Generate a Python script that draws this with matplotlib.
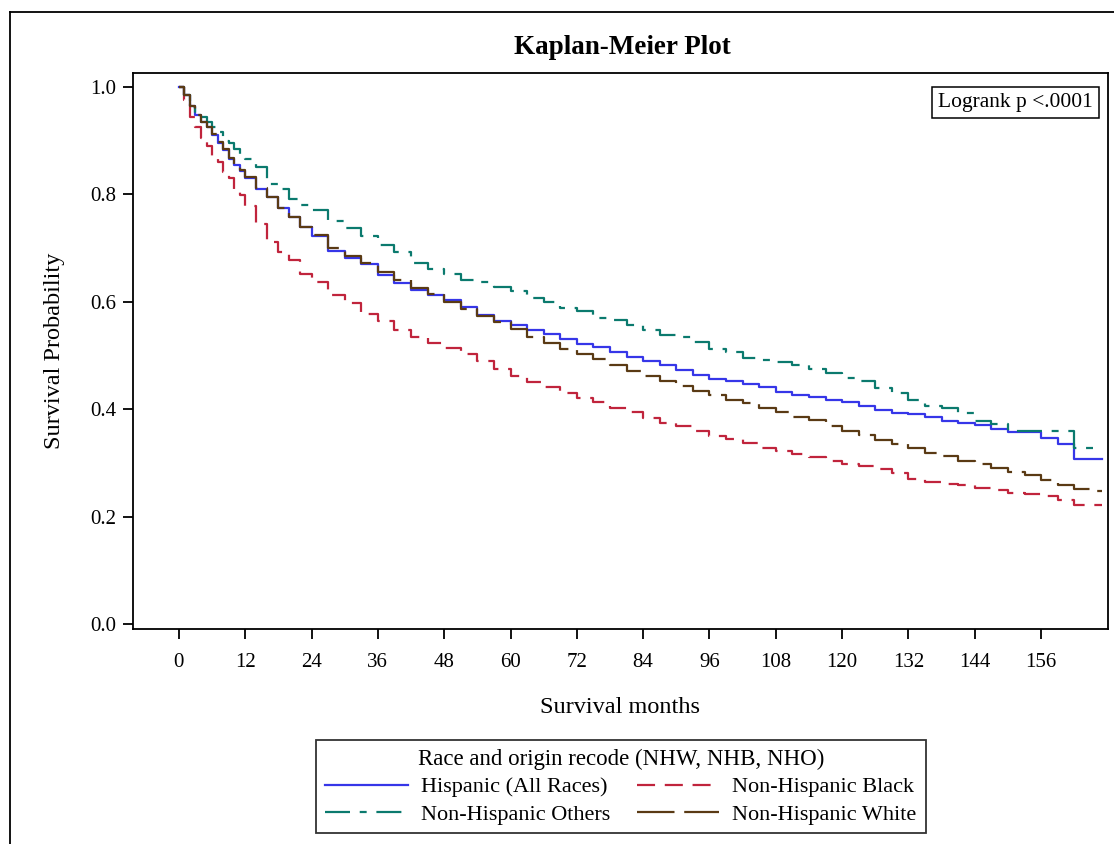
import matplotlib
matplotlib.use("Agg")
import matplotlib.pyplot as plt
from matplotlib.lines import Line2D

plt.rcParams["font.family"] = ["Liberation Serif", "DejaVu Serif"]
plt.rcParams["lines.scale_dashes"] = False

# --- data (survival probability by month) ---------------------------------
months = [0, 1, 2, 3, 4, 5, 6, 7, 8, 9, 10, 11, 12,
          14, 16, 18, 20, 22, 24,
          27, 30, 33, 36, 39, 42, 45, 48, 51, 54, 57, 60, 63, 66, 69, 72,
          75, 78, 81, 84, 87, 90, 93, 96, 99, 102, 105, 108, 111, 114, 117,
          120, 123, 126, 129, 132, 135, 138, 141, 144, 147, 150, 153, 156,
          159, 162, 165, 167]

hispanic = [1.0, 0.985, 0.965, 0.948, 0.935, 0.925, 0.91, 0.895, 0.882, 0.866,
            0.855, 0.843, 0.83,
            0.81, 0.795, 0.775, 0.757, 0.74, 0.722,
            0.695, 0.682, 0.67, 0.65, 0.635, 0.622, 0.612, 0.603, 0.59, 0.575,
            0.565, 0.556, 0.548, 0.54, 0.53, 0.522,
            0.515, 0.507, 0.497, 0.49, 0.482, 0.473, 0.464, 0.457, 0.452,
            0.447, 0.442, 0.432, 0.427, 0.423, 0.418,
            0.413, 0.406, 0.398, 0.393, 0.391, 0.386, 0.378, 0.375, 0.37,
            0.364, 0.358, 0.358, 0.347,
            0.335, 0.307, 0.307, 0.307]

nh_black = [1.0, 0.975, 0.945, 0.925, 0.905, 0.89, 0.87, 0.86, 0.842, 0.83,
            0.81, 0.798, 0.778,
            0.745, 0.712, 0.692, 0.678, 0.652, 0.637,
            0.612, 0.598, 0.578, 0.565, 0.548, 0.535, 0.523, 0.514, 0.503,
            0.49, 0.475, 0.462, 0.451, 0.441, 0.43, 0.42,
            0.413, 0.403, 0.394, 0.384, 0.375, 0.368, 0.36, 0.35, 0.344,
            0.337, 0.328, 0.322, 0.317, 0.311, 0.303,
            0.298, 0.294, 0.288, 0.281, 0.27, 0.264, 0.261, 0.258, 0.253,
            0.249, 0.244, 0.242, 0.238,
            0.231, 0.222, 0.222, 0.222]

nh_others = [1.0, 0.985, 0.963, 0.95, 0.944, 0.935, 0.925, 0.916, 0.9, 0.895,
             0.885, 0.875, 0.865,
             0.851, 0.82, 0.81, 0.792, 0.78, 0.77,
             0.75, 0.737, 0.722, 0.705, 0.692, 0.672, 0.661, 0.652, 0.641,
             0.636, 0.627, 0.62, 0.607, 0.6, 0.589, 0.582,
             0.569, 0.566, 0.557, 0.548, 0.538, 0.534, 0.525, 0.512, 0.506,
             0.496, 0.492, 0.487, 0.482, 0.475, 0.467,
             0.458, 0.452, 0.44, 0.43, 0.418, 0.406, 0.402, 0.392, 0.378,
             0.372, 0.36, 0.36, 0.36,
             0.36, 0.328, 0.328, 0.328]

nh_white = [1.0, 0.985, 0.965, 0.948, 0.935, 0.925, 0.912, 0.897, 0.884, 0.868,
            0.857, 0.845, 0.832,
            0.812, 0.795, 0.775, 0.757, 0.74, 0.725,
            0.7, 0.685, 0.672, 0.655, 0.64, 0.626, 0.614, 0.6, 0.587, 0.573,
            0.562, 0.549, 0.535, 0.524, 0.513, 0.503,
            0.494, 0.482, 0.471, 0.462, 0.453, 0.444, 0.434, 0.427, 0.418,
            0.411, 0.403, 0.394, 0.386, 0.379, 0.369,
            0.36, 0.352, 0.343, 0.336, 0.327, 0.319, 0.313, 0.303, 0.298,
            0.291, 0.283, 0.277, 0.268,
            0.258, 0.252, 0.247, 0.247]

group_names = ["Hispanic (All Races)", "Non-Hispanic Black",
               "Non-Hispanic Others", "Non-Hispanic White"]
x_ticks = list(range(0, 157, 12))
y_ticks = [0.0, 0.2, 0.4, 0.6, 0.8, 1.0]

# --- styling ---------------------------------------------------------------
colors = ["#3636e8", "#c0243c", "#0b7a6e", "#5a3a14"]
dashes = [None, (13, 7), (18, 7, 5, 7), (27, 7)]
series = [hispanic, nh_black, nh_others, nh_white]

fig = plt.figure(figsize=(11.14, 8.44), dpi=100)
ax = fig.add_axes([133 / 1114, 1 - 629 / 844, 975 / 1114, 556 / 844])

handles = []
for vals, name, col, d in zip(series, group_names, colors, dashes):
    line, = ax.step(months, vals, where="post", color=col, lw=1.6,
                    label=name)
    if d is not None:
        line.set_dashes(d)
    handles.append(line)

ax.set_xlim(-8.3, 168.1)
ax.set_ylim(-0.0093, 1.026)
ax.set_xticks(x_ticks)
ax.set_yticks(y_ticks)
ax.set_yticklabels([f"{v:.1f}" for v in y_ticks])
ax.tick_params(axis="both", direction="out", length=7, width=1.3,
               labelsize=15)
ax.tick_params(axis="x", pad=10)
ax.tick_params(axis="y", pad=5)
for sp in ax.spines.values():
    sp.set_linewidth(1.3)

ax.set_xlabel("Survival months", fontsize=17.5, labelpad=18)
ax.set_ylabel("Survival Probability", fontsize=17.5, labelpad=18)

ax.text(0.9846, 0.964, "Logrank p <.0001", transform=ax.transAxes,
        ha="right", va="top", fontsize=15.5,
        bbox=dict(boxstyle="square,pad=0.3", fc="white", ec="black",
                  lw=1.1))

fig.text(622 / 1114, 1 - 48 / 844, "Kaplan-Meier Plot", ha="center",
         va="center", fontsize=19.5, fontweight="bold")

# column-major fill: reorder so rows read Hispanic|Black, Others|White
order = [0, 2, 1, 3]
leg = fig.legend(handles=[handles[i] for i in order],
                 labels=[group_names[i] for i in order], ncol=2,
                 loc="upper center", bbox_to_anchor=(621 / 1114, 1 - 740 / 844),
                 title="Race and origin recode (NHW, NHB, NHO)",
                 fontsize=16, title_fontsize=16.5, frameon=True,
                 fancybox=False, edgecolor="black", handlelength=3.7,
                 handletextpad=0.6, columnspacing=1.2, labelspacing=0.3,
                 borderpad=0.4, borderaxespad=0)
leg.get_frame().set_linewidth(1.3)

# outer graph frame (left and top edges visible)
fig.add_artist(Line2D([10 / 1114, 10 / 1114], [0, 1 - 12 / 844],
                      transform=fig.transFigure, color="black", lw=1.3))
fig.add_artist(Line2D([10 / 1114, 1], [1 - 12 / 844, 1 - 12 / 844],
                      transform=fig.transFigure, color="black", lw=1.3))

fig.savefig("out.png", dpi=100)
